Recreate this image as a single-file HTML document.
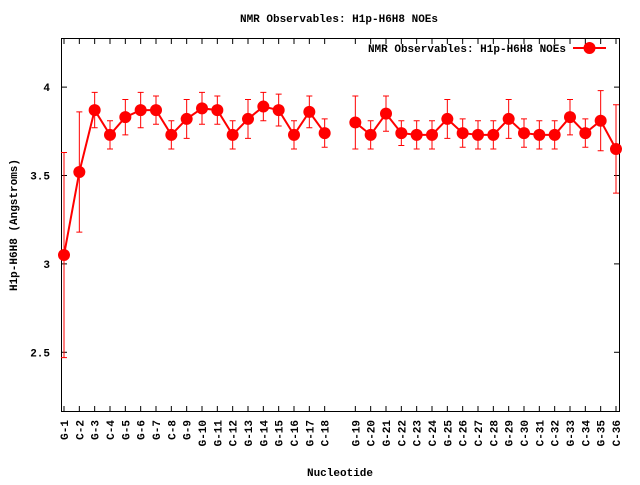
<!DOCTYPE html>
<html><head><meta charset="utf-8"><style>
html,body{margin:0;padding:0;background:#fff;}
svg text{font-family:"Liberation Mono",monospace;font-weight:bold;font-size:11px;fill:#000;}
</style></head><body>
<svg id="chart" width="640" height="480" xmlns="http://www.w3.org/2000/svg">
<text x="339" y="22" text-anchor="middle">NMR Observables: H1p-H6H8 NOEs</text>
<rect x="61.5" y="38.5" width="558" height="373" fill="none" stroke="#000" stroke-width="1"/>
<text transform="translate(17,225) rotate(-90)" text-anchor="middle">H1p-H6H8 (Angstroms)</text>
<text x="340" y="476" text-anchor="middle">Nucleotide</text>
<g id="axes"></g>
<g id="series"></g>
<g>
<text x="566" y="52" text-anchor="end">NMR Observables: H1p-H6H8 NOEs</text>
<line x1="573" y1="48" x2="606" y2="48" stroke="#f00" stroke-width="2"/>
<circle cx="589.5" cy="48" r="6" fill="#f00"/>
</g>
</svg>
<script>
const categories=["G-1","C-2","G-3","C-4","G-5","G-6","G-7","C-8","G-9","G-10","G-11","C-12","G-13","G-14","G-15","C-16","G-17","C-18",null,"G-19","C-20","G-21","C-22","C-23","C-24","G-25","C-26","C-27","C-28","G-29","C-30","C-31","C-32","G-33","C-34","G-35","C-36"];
const values=[3.05,3.52,3.87,3.73,3.83,3.87,3.87,3.73,3.82,3.88,3.87,3.73,3.82,3.89,3.87,3.73,3.86,3.74,null,3.80,3.73,3.85,3.74,3.73,3.73,3.82,3.74,3.73,3.73,3.82,3.74,3.73,3.73,3.83,3.74,3.81,3.65];
const errors=[0.58,0.34,0.10,0.08,0.10,0.10,0.08,0.08,0.11,0.09,0.08,0.08,0.11,0.08,0.09,0.08,0.09,0.08,null,0.15,0.08,0.10,0.07,0.08,0.08,0.11,0.08,0.08,0.08,0.11,0.08,0.08,0.08,0.10,0.08,0.17,0.25];
const yTicks=[2.5,3,3.5,4];
(function(){
const NS="http://www.w3.org/2000/svg";
const yMin=2.165,yMax=4.275,plotTop=38.5,plotBottom=411.5;
function yS(v){return plotBottom-(v-yMin)/(yMax-yMin)*(plotBottom-plotTop);}
function xS(i){return 64+i*(616-64)/(categories.length-1);}
function mk(tag,attrs,parent){const e=document.createElementNS(NS,tag);for(const k in attrs)e.setAttribute(k,attrs[k]);parent.appendChild(e);return e;}
const axes=document.getElementById('axes'),ser=document.getElementById('series');
yTicks.forEach(t=>{const y=yS(t);
 const a=mk('line',{x1:61.5,x2:67,y1:y,y2:y,stroke:'#000'},axes);
 
 
 const b=mk('line',{x1:614,x2:619.5,y1:y,y2:y,stroke:'#000'},axes);
 
 
 const l=mk('text',{x:50,y:y+4,'text-anchor':'end'},axes);l.textContent=String(t);
 
 
});
categories.forEach((c,i)=>{if(c===null)return;const x=xS(i);
 const a=mk('line',{x1:x,x2:x,y1:411.5,y2:406,stroke:'#000'},axes);
 
 
 const b=mk('line',{x1:x,x2:x,y1:38.5,y2:44,stroke:'#000'},axes);
 
 
 const l=mk('text',{transform:`translate(${x+4},420) rotate(-90)`,'text-anchor':'end'},axes);l.textContent=c;
 
 
});
let segs=[],cur=[];
values.forEach((v,i)=>{if(v===null){if(cur.length)segs.push(cur);cur=[];}else cur.push(xS(i)+','+yS(v));});
if(cur.length)segs.push(cur);
segs.forEach(s=>{const p=mk('polyline',{points:s.join(' '),fill:'none',stroke:'#f00','stroke-width':2},ser);
 
 });
values.forEach((v,i)=>{if(v===null)return;const x=xS(i),e=errors[i];
 const y1=yS(v+e),y2=yS(v-e);
 const g=mk('path',{d:`M${x},${y1}V${y2}M${x-3},${y1}H${x+3}M${x-3},${y2}H${x+3}`,stroke:'#f00','stroke-width':1,fill:'none'},ser);
 
 
 const c=mk('circle',{cx:x,cy:yS(v),r:6,fill:'#f00'},ser);
 
 
});
})();
</script>
</body></html>
